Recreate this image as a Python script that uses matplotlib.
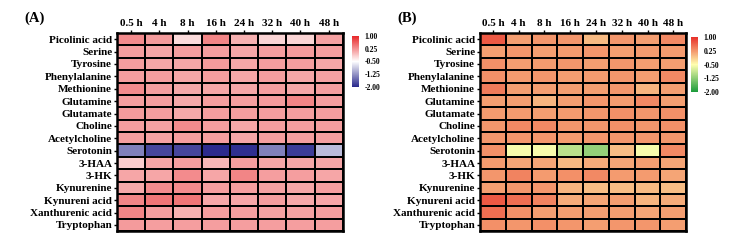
import numpy as np
import matplotlib
matplotlib.use("Agg")
import matplotlib.pyplot as plt
from matplotlib.colors import LinearSegmentedColormap

plt.rcParams['font.family'] = ['Liberation Serif', 'DejaVu Serif']
plt.rcParams['font.weight'] = 'bold'

# ---- data ----
times = ["0.5 h", "4 h", "8 h", "16 h", "24 h", "32 h", "40 h", "48 h"]
metabolites = ["Picolinic acid", "Serine", "Tyrosine", "Phenylalanine", "Methionine",
               "Glutamine", "Glutamate", "Choline", "Acetylcholine", "Serotonin",
               "3-HAA", "3-HK", "Kynurenine", "Kynureni acid", "Xanthurenic acid",
               "Tryptophan"]

vals_a = [
    [0.30, 0.20, -0.25, 0.35, 0.05, -0.20, -0.20, 0.15],
    [0.17, 0.12, 0.17, 0.17, 0.12, 0.17, 0.20, 0.17],
    [0.17, 0.12, 0.12, 0.20, 0.12, 0.17, 0.17, 0.12],
    [0.17, 0.17, 0.12, 0.17, 0.12, 0.17, 0.12, 0.15],
    [0.30, 0.17, 0.10, 0.12, 0.12, 0.17, 0.12, 0.17],
    [0.17, 0.17, 0.10, 0.17, 0.17, 0.20, 0.35, 0.17],
    [0.20, 0.17, 0.10, 0.17, 0.17, 0.17, 0.17, 0.17],
    [0.17, 0.15, 0.30, 0.17, 0.12, 0.17, 0.17, 0.17],
    [0.17, 0.15, 0.17, 0.17, 0.12, 0.17, 0.17, 0.17],
    [-1.38, -1.78, -1.78, -1.97, -1.95, -1.38, -1.85, -0.97],
    [-0.15, 0.12, 0.17, 0.00, 0.17, 0.12, 0.12, 0.12],
    [0.12, 0.12, 0.30, 0.12, 0.35, 0.17, 0.17, 0.12],
    [0.10, 0.30, 0.30, 0.17, 0.17, 0.15, 0.12, 0.17],
    [0.35, 0.45, 0.45, 0.10, 0.12, 0.17, 0.10, 0.12],
    [0.35, 0.17, 0.05, 0.17, 0.17, 0.15, 0.15, 0.17],
    [0.20, 0.17, 0.17, 0.17, 0.17, 0.17, 0.17, 0.17],
]

vals_b = [
    [0.70, 0.20, 0.25, 0.25, 0.00, 0.25, 0.20, 0.35],
    [0.20, 0.25, 0.20, 0.22, 0.25, 0.20, 0.22, 0.22],
    [0.30, 0.20, 0.22, 0.25, 0.20, 0.25, 0.20, 0.20],
    [0.30, 0.22, 0.25, 0.20, 0.22, 0.25, 0.20, 0.35],
    [0.45, 0.20, 0.20, 0.20, 0.20, 0.25, 0.05, 0.20],
    [0.20, 0.20, 0.05, 0.20, 0.25, 0.22, 0.35, 0.20],
    [0.22, 0.22, 0.20, 0.22, 0.25, 0.30, 0.25, 0.30],
    [0.25, 0.35, 0.35, 0.25, 0.25, 0.30, 0.25, 0.30],
    [0.25, 0.25, 0.25, 0.22, 0.25, 0.25, 0.25, 0.25],
    [0.30, -0.55, -0.55, -0.95, -1.20, -0.02, -0.55, 0.35],
    [0.22, 0.15, 0.15, 0.00, 0.10, 0.15, 0.20, 0.15],
    [0.25, 0.40, 0.22, 0.30, 0.35, 0.22, 0.22, 0.15],
    [0.20, 0.25, 0.25, 0.05, -0.02, -0.02, 0.00, -0.02],
    [0.70, 0.55, 0.40, 0.10, 0.15, 0.20, 0.05, 0.10],
    [0.55, 0.30, 0.20, 0.20, 0.20, 0.20, 0.15, 0.20],
    [0.30, 0.25, 0.30, 0.25, 0.20, 0.25, 0.25, 0.20],
]

cbar_ticks = [1.00, 0.25, -0.50, -1.25, -2.00]

cmap_a = LinearSegmentedColormap.from_list("bwr_c", ["#28288c", "#ffffff", "#e8282a"])
cmap_b = LinearSegmentedColormap.from_list("gyr_c", ["#1a9a3a", "#ffffb0", "#e8302a"])

fig = plt.figure(figsize=(7.5, 2.43), dpi=100)


def draw_panel(ax_rect, cax_rect, data, cmap, label, label_x):
    ax = fig.add_axes(ax_rect)
    arr = np.array(data)
    mesh = ax.pcolormesh(arr, cmap=cmap, vmin=-2, vmax=1,
                         edgecolors="black", linewidth=1.4)
    ax.set_xlim(0, len(times))
    ax.set_ylim(len(metabolites), 0)
    ax.set_xticks(np.arange(len(times)) + 0.5)
    ax.set_xticklabels(times, fontsize=8, fontweight="bold")
    ax.set_yticks(np.arange(len(metabolites)) + 0.5)
    ax.set_yticklabels(metabolites, fontsize=8, fontweight="bold")
    ax.xaxis.tick_top()
    ax.tick_params(axis="x", length=2.5, width=1, pad=1)
    ax.tick_params(axis="y", length=2.5, width=1, pad=1)
    for s in ax.spines.values():
        s.set_linewidth(1.8)

    cax = fig.add_axes(cax_rect)
    cb = fig.colorbar(mesh, cax=cax, ticks=cbar_ticks)
    cb.outline.set_visible(False)
    cb.ax.tick_params(length=0, labelsize=5.5, pad=4)
    cb.ax.set_yticklabels([f"{t:.2f}" for t in cbar_ticks], fontweight="bold")

    fig.text(label_x, 0.925, label, fontsize=10.5, fontweight="bold", ha="left", va="center")


draw_panel([0.156, 0.049, 0.301, 0.815], [0.469, 0.642, 0.0093, 0.21],
           vals_a, cmap_a, "(A)", 0.033)
draw_panel([0.640, 0.049, 0.275, 0.815], [0.921, 0.621, 0.0093, 0.226],
           vals_b, cmap_b, "(B)", 0.53)

fig.savefig("out.png", dpi=100)
